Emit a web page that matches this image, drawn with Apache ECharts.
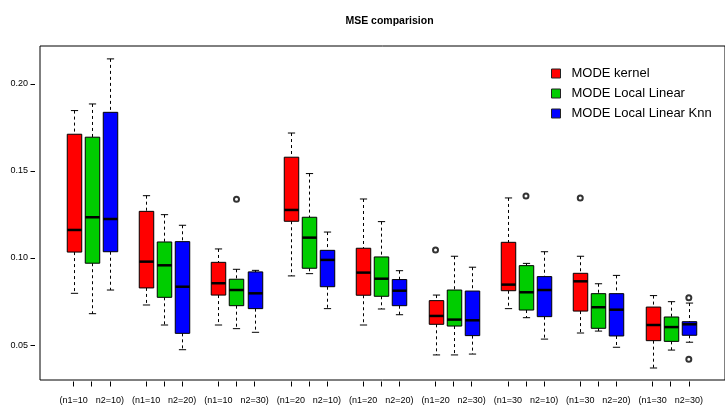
<!DOCTYPE html>
<html>
<head>
<meta charset="utf-8">
<title>MSE comparision</title>
<script src="https://cdn.jsdelivr.net/npm/echarts@6/dist/echarts.min.js"></script>
<style>
  html, body { margin: 0; padding: 0; background: #ffffff; }
  #chart { width: 725px; height: 407px; }
</style>
</head>
<body>
<div id="chart"></div>
<script>
// Simulation settings, one per group of three boxes
const n1Values = [10, 10, 10, 20, 20, 20, 30, 30, 30];
const n2Values = [10, 20, 30, 10, 20, 30, 10, 20, 30];

const methodNames = ['MODE kernel', 'MODE Local Linear', 'MODE Local Linear Knn'];
const methodColors = ['#ff0000', '#00cd00', '#0000ff'];

// Five-number summaries [lower whisker, Q1, median, Q3, upper whisker] per group
const kernelStats = [
  [0.0797, 0.1034, 0.1161, 0.1711, 0.1847],
  [0.0730, 0.0828, 0.0979, 0.1268, 0.1358],
  [0.0615, 0.0787, 0.0855, 0.0975, 0.1052],
  [0.0897, 0.1211, 0.1276, 0.1579, 0.1718],
  [0.0615, 0.0786, 0.0916, 0.1056, 0.1339],
  [0.0443, 0.0619, 0.0667, 0.0755, 0.0787],
  [0.0709, 0.0812, 0.0847, 0.1090, 0.1345],
  [0.0569, 0.0695, 0.0866, 0.0912, 0.1010],
  [0.0368, 0.0525, 0.0615, 0.0718, 0.0784]
];
const localLinearStats = [
  [0.0680, 0.0970, 0.1234, 0.1694, 0.1885],
  [0.0615, 0.0774, 0.0958, 0.1092, 0.1249],
  [0.0594, 0.0726, 0.0816, 0.0878, 0.0935],
  [0.0910, 0.0941, 0.1117, 0.1234, 0.1485],
  [0.0707, 0.0780, 0.0881, 0.1006, 0.1209],
  [0.0443, 0.0609, 0.0646, 0.0816, 0.1010],
  [0.0657, 0.0701, 0.0803, 0.0956, 0.0969],
  [0.0580, 0.0596, 0.0717, 0.0795, 0.0852],
  [0.0471, 0.0521, 0.0603, 0.0661, 0.0749]
];
const knnStats = [
  [0.0816, 0.1036, 0.1224, 0.1837, 0.2144],
  [0.0473, 0.0567, 0.0835, 0.1094, 0.1188],
  [0.0573, 0.0709, 0.0797, 0.0920, 0.0929],
  [0.0709, 0.0835, 0.0989, 0.1044, 0.1149],
  [0.0674, 0.0726, 0.0812, 0.0876, 0.0927],
  [0.0448, 0.0554, 0.0642, 0.0810, 0.0947],
  [0.0534, 0.0663, 0.0816, 0.0893, 0.1036],
  [0.0487, 0.0552, 0.0703, 0.0795, 0.0900],
  [0.0516, 0.0556, 0.0619, 0.0634, 0.0741]
];

// Outlying points as [group index, value]
const kernelOutliers = [[5, 0.1046], [7, 0.1345]];
const localLinearOutliers = [[2, 0.1337], [6, 0.1356]];
const knnOutliers = [[8, 0.0772], [8, 0.0418]];

const yTicks = [0.05, 0.10, 0.15, 0.20];

const allStats = [kernelStats, localLinearStats, knnStats];
const allOutliers = [kernelOutliers, localLinearOutliers, knnOutliers];

// Box position on the x scale: groups of three with one empty slot between
function boxPos(group, method) { return 4 * group + method + 1; }

const tickPositions = [];
const labelPositions = [];
const labelText = {};
n1Values.forEach((n1, g) => {
  for (let k = 0; k < 3; k++) tickPositions.push(boxPos(g, k));
  labelPositions.push(boxPos(g, 0), boxPos(g, 2));
  labelText[boxPos(g, 0)] = '(n1=' + n1;
  labelText[boxPos(g, 2)] = 'n2=' + n2Values[g] + ')';
});

const FONT = "'Liberation Sans', Arial, sans-serif";

function renderBox(params, api) {
  const x = api.value(0);
  const lo = api.coord([x, api.value(1)]);
  const q1 = api.coord([x, api.value(2)]);
  const med = api.coord([x, api.value(3)]);
  const q3 = api.coord([x, api.value(4)]);
  const hi = api.coord([x, api.value(5)]);
  const unit = api.size([1, 0])[0];
  const half = unit * 0.4;
  const cap = half * 0.5;
  const cx = Math.round(lo[0]) + 0.5;
  const fill = api.visual('color');
  const dashed = { stroke: '#000', lineWidth: 1, lineDash: [3, 3] };
  const solid = { stroke: '#000', lineWidth: 1 };
  return {
    type: 'group',
    children: [
      { type: 'line', shape: { x1: cx, y1: hi[1], x2: cx, y2: q3[1] }, style: dashed },
      { type: 'line', shape: { x1: cx, y1: q1[1], x2: cx, y2: lo[1] }, style: dashed },
      { type: 'line', shape: { x1: cx - cap, y1: hi[1], x2: cx + cap, y2: hi[1] }, style: solid },
      { type: 'line', shape: { x1: cx - cap, y1: lo[1], x2: cx + cap, y2: lo[1] }, style: solid },
      { type: 'rect', shape: { x: cx - half, y: q3[1], width: 2 * half, height: q1[1] - q3[1] },
        style: { fill: fill, stroke: '#000', lineWidth: 1 } },
      { type: 'line', shape: { x1: cx - half, y1: med[1], x2: cx + half, y2: med[1] },
        style: { stroke: '#000', lineWidth: 2.5 } }
    ]
  };
}

const series = [];
methodNames.forEach((name, k) => {
  series.push({
    name: name,
    type: 'custom',
    renderItem: renderBox,
    itemStyle: { color: methodColors[k] },
    encode: { x: 0, y: [1, 2, 3, 4, 5] },
    data: allStats[k].map((s, g) => [boxPos(g, k)].concat(s)),
    z: 2
  });
  series.push({
    name: name,
    type: 'scatter',
    symbol: 'emptyCircle',
    symbolSize: 5,
    itemStyle: { color: '#000', borderWidth: 1 },
    data: allOutliers[k].map(o => [boxPos(o[0], k), o[1]]),
    z: 3
  });
});

const chart = echarts.init(document.getElementById('chart'), null, { renderer: 'canvas' });
chart.setOption({
  animation: false,
  backgroundColor: '#ffffff',
  title: {
    text: 'MSE comparision',
    left: 384.5,
    textAlign: 'center',
    top: 11,
    textStyle: { fontFamily: FONT, fontSize: 10.5, fontWeight: 'bold', color: '#000' }
  },
  legend: {
    orient: 'vertical',
    left: 551,
    top: 66,
    padding: 0,
    itemWidth: 9,
    itemHeight: 9,
    itemGap: 5,
    textStyle: { fontFamily: FONT, fontSize: 13, color: '#000', lineHeight: 15, padding: [0, 0, 0, 6] },
    data: methodNames.map((n, k) => ({
      name: n, icon: 'rect',
      itemStyle: { color: methodColors[k], borderColor: '#222', borderWidth: 1 }
    }))
  },
  grid: {
    left: 40, right: -8, top: 46, bottom: 27,
    show: true, borderColor: '#000', borderWidth: 1, backgroundColor: 'transparent'
  },
  xAxis: {
    type: 'value',
    min: -0.86,
    max: 37.0,
    offset: 1.5,
    splitLine: { show: false },
    axisLine: { show: false, onZero: false },
    axisTick: { show: true, length: 5, customValues: tickPositions, lineStyle: { color: '#000' } },
    axisLabel: {
      show: true, margin: 15, customValues: labelPositions,
      fontFamily: FONT, fontSize: 9, color: '#000',
      formatter: v => labelText[v] || ''
    }
  },
  yAxis: {
    type: 'value',
    min: 0.0299,
    max: 0.2218,
    offset: 5,
    splitLine: { show: false },
    axisLine: { show: false, onZero: false },
    axisTick: { show: true, inside: false, length: 4.5, customValues: yTicks, lineStyle: { color: '#000' } },
    axisLabel: {
      show: true, margin: 7, customValues: yTicks,
      fontFamily: FONT, fontSize: 9, color: '#000',
      formatter: v => v.toFixed(2)
    }
  },
  series: series
});
</script>
</body>
</html>
